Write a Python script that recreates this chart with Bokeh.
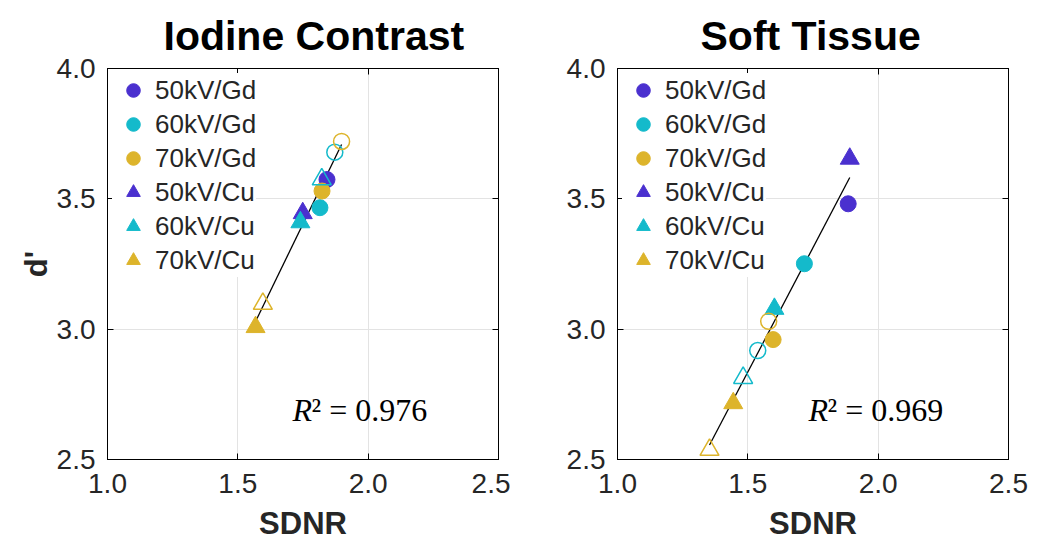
import numpy as np
from bokeh.plotting import figure
from bokeh.layouts import row
from bokeh.models import Range1d, Label, Legend, LegendItem, FixedTicker, LinearAxis
from bokeh.embed import file_html
from bokeh.resources import INLINE

BLUE = "#4A30CF"
CYAN = "#14BACB"
YELLOW = "#DDB42B"

series_names = ["50kV/Gd", "60kV/Gd", "70kV/Gd", "50kV/Cu", "60kV/Cu", "70kV/Cu"]
series_colors = [BLUE, CYAN, YELLOW, BLUE, CYAN, YELLOW]
series_markers = ["circle", "circle", "circle", "triangle", "triangle", "triangle"]

# Iodine Contrast panel: filled markers (one per series)
io_sdnr = [1.842, 1.815, 1.823, 1.749, 1.740, 1.568]
io_d = [3.574, 3.466, 3.530, 3.445, 3.410, 3.008]
# open markers (60/70 kV only)
open_names = ["60kV/Gd", "70kV/Gd", "60kV/Cu", "70kV/Cu"]
open_colors = [CYAN, YELLOW, CYAN, YELLOW]
open_markers = ["circle", "circle", "triangle", "triangle"]
io_open_sdnr = [1.872, 1.898, 1.822, 1.596]
io_open_d = [3.679, 3.720, 3.575, 3.097]
io_r2 = "0.976"

# Soft Tissue panel
st_sdnr = [1.885, 1.717, 1.597, 1.891, 1.602, 1.444]
st_d = [3.481, 3.251, 2.960, 3.654, 3.078, 2.716]
st_open_sdnr = [1.538, 1.580, 1.482, 1.353]
st_open_d = [2.918, 3.030, 2.813, 2.537]
st_r2 = "0.969"

x_ticks = [1.0, 1.5, 2.0, 2.5]
y_ticks = [2.5, 3.0, 3.5, 4.0]

TXT = "#262626"
SANS = "Liberation Sans"
SERIF = "Liberation Serif"


def style_axis(ax, ticks):
    ax.ticker = FixedTicker(ticks=ticks)
    ax.major_label_overrides = {t: f"{t:.1f}" for t in ticks}
    ax.major_label_text_font = SANS
    ax.major_label_text_font_size = "28px"
    ax.major_label_text_color = TXT
    ax.axis_line_color = "black"
    ax.major_tick_line_color = "black"
    ax.major_tick_in = 6
    ax.major_tick_out = 0
    ax.minor_tick_line_color = None
    ax.axis_label_text_font = SANS
    ax.axis_label_text_font_style = "bold"
    ax.axis_label_text_font_size = "31px"
    ax.axis_label_text_color = TXT
    ax.major_label_standoff = 14


def make_panel(title, sdnr, d, osdnr, od, r2, r2x, show_ylabel, left_border, right_border, title_offset):
    p = figure(frame_width=391, frame_height=391,
               x_range=Range1d(1.0, 2.5), y_range=Range1d(2.5, 4.0),
               output_backend="svg", toolbar_location=None,
               min_border_left=left_border, min_border_right=right_border,
               min_border_top=68, min_border_bottom=86,
               background_fill_color="white", border_fill_color="white")
    p.title.text = title
    p.title.text_font = SANS
    p.title.text_font_size = "41px"
    p.title.text_font_style = "bold"
    p.title.text_color = "black"
    p.title.align = "left"
    p.title.offset = title_offset
    p.title.standoff = 19

    p.outline_line_color = "black"
    p.outline_line_width = 1
    p.outline_line_alpha = 1.0

    style_axis(p.xaxis[0], x_ticks)
    style_axis(p.yaxis[0], y_ticks)
    p.yaxis.major_label_standoff = 12
    p.xaxis.axis_label = "SDNR"
    p.xaxis.axis_label_standoff = 10
    if show_ylabel:
        p.yaxis.axis_label = "d'"
        p.yaxis.axis_label_standoff = 0

    # mirrored ticks on top and right (box style), labels not drawn
    top = LinearAxis()
    style_axis(top, x_ticks)
    top.major_label_text_font_size = "1px"
    top.major_label_text_color = None
    top.major_label_standoff = 0
    right_ax = LinearAxis()
    style_axis(right_ax, y_ticks)
    right_ax.major_label_text_font_size = "1px"
    right_ax.major_label_text_color = None
    right_ax.major_label_standoff = 0
    p.add_layout(top, "above")
    p.add_layout(right_ax, "right")

    p.xgrid.ticker = FixedTicker(ticks=x_ticks)
    p.ygrid.ticker = FixedTicker(ticks=y_ticks)
    p.grid.grid_line_color = "#e3e3e3"
    p.grid.grid_line_width = 1

    # regression line (least squares over all points)
    allx = np.array(list(sdnr) + list(osdnr))
    ally = np.array(list(d) + list(od))
    m, b = np.polyfit(allx, ally, 1)
    lx = np.array([allx.min(), allx.max()])
    p.line(lx, m * lx + b, line_color="black", line_width=1.3)

    items = []
    for i in range(6):
        r = p.scatter([sdnr[i]], [d[i]], marker=series_markers[i],
                      size=16 if series_markers[i] == "circle" else 19,
                      fill_color=series_colors[i], line_color=series_colors[i], line_width=1)
        items.append(LegendItem(label=series_names[i], renderers=[r]))
    for i in range(4):
        p.scatter([osdnr[i]], [od[i]], marker=open_markers[i],
                  size=16 if open_markers[i] == "circle" else 19,
                  fill_color=None, line_color=open_colors[i], line_width=1.5)

    leg = Legend(items=items, location="top_left")
    leg.margin = 5
    leg.padding = 16
    leg.spacing = 0
    leg.glyph_height = 34
    leg.glyph_width = 42
    leg.label_height = 34
    leg.label_standoff = 1
    leg.label_text_font = SANS
    leg.label_text_font_size = "26px"
    leg.label_text_color = TXT
    leg.border_line_color = None
    leg.background_fill_color = "white"
    leg.background_fill_alpha = 1.0
    p.add_layout(leg, "center")

    # R^2 annotation
    p.add_layout(Label(x=r2x, y=2.688, text="R", text_font=SERIF, text_font_style="italic",
                       text_font_size="32px", text_color="black", text_baseline="alphabetic"))
    p.add_layout(Label(x=r2x, y=2.688, x_offset=19, text="\u00b2 = " + r2, text_font=SERIF,
                       text_font_size="32px", text_color="black", text_baseline="alphabetic"))
    return p


left = make_panel("Iodine Contrast", io_sdnr, io_d, io_open_sdnr, io_open_d, io_r2, 1.71,
                  True, 107, 12, 56)
right = make_panel("Soft Tissue", st_sdnr, st_d, st_open_sdnr, st_open_d, st_r2, 1.733,
                   False, 107, 29, 83)

layout = row(left, right, spacing=0)
open("out.html", "w").write(file_html(layout, INLINE))
